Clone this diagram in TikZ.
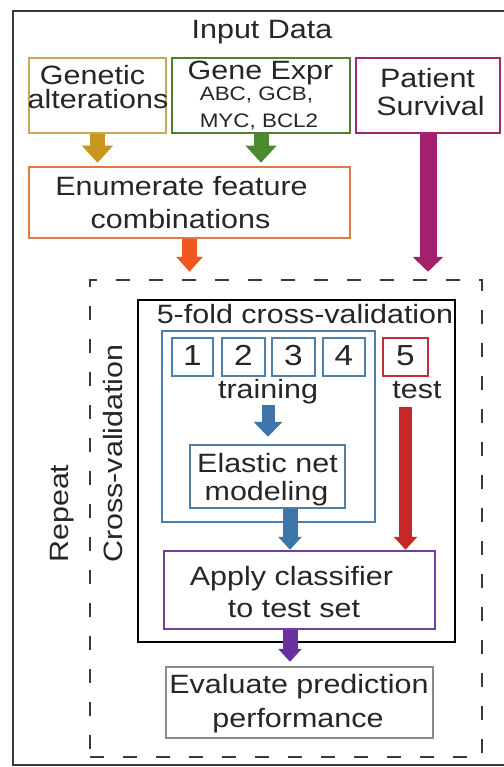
\documentclass[tikz,border=0pt]{standalone}
\usepackage{fontspec}
\setmainfont{Liberation Sans}[FakeStretch=1.15]
\usetikzlibrary{arrows.meta,fit}
\definecolor{goldbox}{HTML}{C9A85A}
\definecolor{goldarr}{HTML}{C8961E}
\definecolor{greenbox}{HTML}{4E8035}
\definecolor{greenarr}{HTML}{4C8A2E}
\definecolor{magbox}{HTML}{A0286E}
\definecolor{magarr}{HTML}{A3216C}
\definecolor{orbox}{HTML}{E07A45}
\definecolor{orarr}{HTML}{F0561E}
\definecolor{bluebox}{HTML}{4F7EAA}
\definecolor{bluearr}{HTML}{3D75A8}
\definecolor{redbox}{HTML}{C0303A}
\definecolor{redarr}{HTML}{C62828}
\definecolor{purbox}{HTML}{6E40A0}
\definecolor{purarr}{HTML}{6A2FA0}
\definecolor{graybox}{HTML}{8C8C8C}
\definecolor{frame}{HTML}{3A3A3A}
\begin{document}
\begin{tikzpicture}[x=1pt,y=-1pt,
  box/.style={draw=#1, line width=2.5pt, inner sep=0pt},
  txt/.style={anchor=base, inner sep=0pt, font=\fontsize{26.5}{30}\selectfont, text=black!85},
  smalltxt/.style={anchor=base, inner sep=0pt, font=\fontsize{19.5}{22}\selectfont, text=black!85},
  digit/.style={anchor=base, inner sep=0pt, font=\fontsize{29}{30}\selectfont, text=black!85},
  fat/.style={draw=#1, line width=14pt, -{Triangle[width=28pt,length=15pt]}},
  slim/.style={draw=#1, line width=13pt, -{Triangle[width=23pt,length=13pt]}}]
\useasboundingbox (0,0) rectangle (503,767);
\fill[white] (0,0) rectangle (503,767);
% outer frame (right edge beyond the picture)
\draw[frame, line width=2.5pt] (515,11) -- (13,11) -- (13,765) -- (515,765);

% input boxes
\node[box=goldbox, fit={(29,58) (166,133)}] (gen) {};
\node[box=greenbox, fit={(172,58) (350,133)}] (expr) {};
\node[box=magbox, fit={(356,58) (500,133)}] (surv) {};
\node[box=orbox, fit={(29,167) (350,238)}] (enum) {};

% repeat region
\node[draw=frame, line width=2.5pt, dash pattern=on 14pt off 19pt, inner sep=0pt, fit={(90,280) (482,757)}] (dash) {};
\node[draw=black, line width=2.5pt, inner sep=0pt, fit={(138,300) (455,642)}] (cv) {};
\node[box=bluebox, fit={(162,331) (375,522)}] (train) {};
\node[box=bluebox, fit={(172,338) (213,376)}] (f1) {};
\node[box=bluebox, fit={(222,338) (265,376)}] (f2) {};
\node[box=bluebox, fit={(272,338) (315,376)}] (f3) {};
\node[box=bluebox, fit={(323,338) (365,376)}] (f4) {};
\node[box=redbox, fit={(383,338) (428,376)}] (five) {};
\node[box=bluebox, fit={(190,445) (345,508)}] (el) {};
\node[box=purbox, fit={(164,551) (435,629)}] (apply) {};
\node[box=graybox, fit={(166,667) (433,738)}] (eval) {};

% texts
\node[txt] (tin) at (262,39) {Input Data};
\node[txt] (tgen1) at (92.5,84.5) {Genetic};
\node[txt] (tgen2) at (98,109) {alterations};
\node[txt] (texp1) at (260.5,80) {Gene Expr};
\node[smalltxt] (texp2) at (256.5,101) {ABC, GCB,};
\node[smalltxt] (texp3) at (259,128) {MYC, BCL2};
\node[txt] (tsur1) at (427.5,88) {Patient};
\node[txt] (tsur2) at (430.5,116) {Survival};
\node[txt] (ten1) at (181.5,196) {Enumerate feature};
\node[txt] (ten2) at (180.5,229) {combinations};
\node[txt] (tfold) at (305,323) {5-fold cross-validation};
\node[digit] (d1) at (192.5,365) {1};
\node[digit] (d2) at (243.5,365) {2};
\node[digit] (d3) at (293.5,365) {3};
\node[digit] (d4) at (344,365) {4};
\node[digit] (d5) at (405.5,365) {5};
\node[txt] (ttrain) at (268,398) {training};
\node[txt] (ttest) at (417,398) {test};
\node[txt] (tel1) at (267.5,472) {Elastic net};
\node[txt] (tel2) at (266.5,500) {modeling};
\node[txt] (tap1) at (291.5,585) {Apply classifier};
\node[txt] (tap2) at (294,617) {to test set};
\node[txt] (tev1) at (299,693) {Evaluate prediction};
\node[txt] (tev2) at (298,727) {performance};
\node[txt, anchor=base west, rotate=90] (trep) at (68,563) {Repeat};
\node[txt, anchor=base west, rotate=90] (tcross) at (122,563) {Cross-validation};

% arrows
\draw[fat=goldarr, line width=15pt, -{Triangle[width=30pt,length=17pt]}, shorten >=3pt] (gen.south) -- (gen.south |- enum.north);
\draw[fat=greenarr, line width=15pt, -{Triangle[width=30pt,length=17pt]}, shorten >=3pt] (expr.south) -- (expr.south |- enum.north);
\draw[fat=orarr, line width=15pt, -{Triangle[width=26pt,length=15pt]}, shorten >=7pt] (enum.south) -- (enum.south |- dash.north);
\draw[fat=magarr, line width=17pt, -{Triangle[width=30pt,length=15pt]}, shorten >=7pt] (surv.south) -- (surv.south |- dash.north);
\draw[fat=bluearr, line width=13pt, -{Triangle[width=28pt,length=15pt]}, shorten >=7pt, shorten <=1pt] (ttrain.south) -- (ttrain.south |- el.north);
\draw[slim=redarr, shorten <=9pt] (five.south |- ttest.south) -- (five.south |- apply.north);
\draw[slim=bluearr, line width=15pt] ([xshift=22.5pt]el.south) -- ([xshift=22.5pt]el.south |- apply.north);
\draw[slim=purarr, line width=15pt, shorten >=4pt] ([xshift=-9.5pt]apply.south) -- ([xshift=-9.5pt]apply.south |- eval.north);
\end{tikzpicture}
\end{document}
